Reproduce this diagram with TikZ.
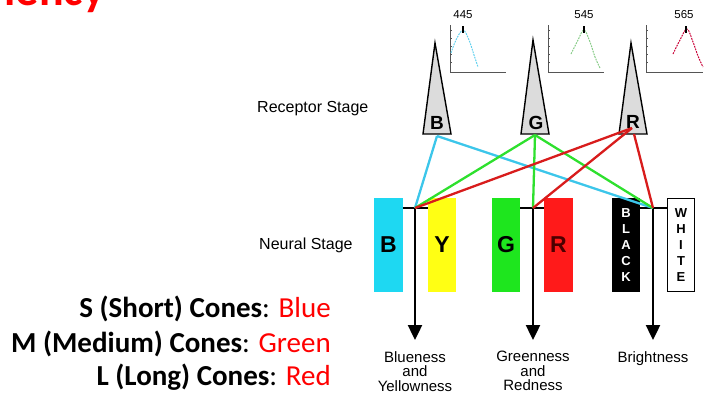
\documentclass[tikz,border=0pt]{standalone}
\usepackage{fontspec}
\setmainfont{Liberation Sans}
\newfontfamily\calibri{Carlito}
\usetikzlibrary{arrows.meta}
\definecolor{barcyan}{HTML}{1ED8F2}
\definecolor{baryellow}{HTML}{FFFF14}
\definecolor{bargreen}{HTML}{1EE61E}
\definecolor{barred}{HTML}{FF1A1A}
\definecolor{lncyan}{HTML}{3CC6EA}
\definecolor{lngreen}{HTML}{2EE02E}
\definecolor{lnred}{HTML}{D81C1C}
\definecolor{conegray}{HTML}{DCDCDC}
\definecolor{axgray}{HTML}{555555}
\begin{document}
\begin{tikzpicture}[x=1pt,y=-1pt,
  bar/.style={inner sep=0pt, minimum width=28.5pt, minimum height=94pt, font=\bfseries\fontsize{23}{23}\selectfont},
  vbar/.style={inner sep=0pt, minimum width=28pt, minimum height=94pt, align=center, font=\bfseries\fontsize{13}{16}\selectfont},
  cone/.style={draw=black, line width=1.4pt, fill=conegray, line join=miter},
  conelbl/.style={inner sep=0pt, font=\bfseries\fontsize{19}{19}\selectfont},
  tline/.style={line width=2.4pt},
  outline/.style={line width=2.4pt, -{Triangle[length=15pt,width=14pt]}},
  link/.style={line width=2.3pt},
  outlbl/.style={inner sep=0pt, align=center, font=\fontsize{15}{14.5}\selectfont},
  stagelbl/.style={inner sep=0pt, anchor=west, font=\fontsize{16}{18}\selectfont},
  axis/.style={draw=axgray, line width=0.9pt},
  curve/.style={line width=1pt, dash pattern=on 1.8pt off 1pt},
  peaklbl/.style={inner sep=0pt, font=\fontsize{11.5}{12}\selectfont},
  keytxt/.style={inner sep=0pt, anchor=base east, font=\calibri\fontsize{29}{34}\selectfont}
]
\useasboundingbox (0,0) rectangle (715,392);

% title (cut off at the top)
\node[inner sep=0pt, anchor=base east, text=red, font=\calibri\bfseries\fontsize{46}{50}\selectfont] (title) at (105,5) {iency};

% key text
\node[keytxt] (keyS) at (331,317) {\textbf{S (Short) Cones}: \textcolor{red}{Blue}};
\node[keytxt] (keyM) at (331,352) {\textbf{M (Medium) Cones}: \textcolor{red}{Green}};
\node[keytxt] (keyL) at (331,385) {\textbf{L (Long) Cones}: \textcolor{red}{Red}};

% stage labels
\node[stagelbl] (recst) at (257,109) {Receptor Stage};
\node[stagelbl] (neust) at (259,245) {Neural Stage};

% spectral plots
\foreach \ox/\ex in {450/506, 548/604, 646/703}{
  \draw[axis] (\ox,25) -- (\ox,72) -- (\ex,72);
  \foreach \t in {30,38,46,54,62}{\draw[axgray, line width=0.5pt] (\ox,\t) -- (\ox+2,\t);}
}
\draw[curve, draw=lncyan!80] plot[smooth, tension=0.6] coordinates {(451,53) (456,40) (463,30) (469,40) (474,55) (478,67)};
\draw[curve, draw=lngreen!55!gray!70] plot[smooth, tension=0.6] coordinates {(571,54) (578,40) (584,30) (590,42) (595,57) (600,68)};
\draw[curve, draw=purple!85!red] plot[smooth, tension=0.6] coordinates {(673,54) (680,40) (687,29) (693,42) (698,56) (703,67)};
\draw[line width=1.1pt] (463,26) -- (463,33);
\draw[line width=1.1pt] (584,26) -- (584,33);
\draw[line width=1.1pt] (686,26) -- (686,33);
\node[peaklbl] (p445) at (463,15) {445};
\node[peaklbl] (p545) at (584,15) {545};
\node[peaklbl] (p565) at (684,15) {565};

% receptor cones
\coordinate (Bapex) at (435,43);
\coordinate (Gapex) at (533,40);
\coordinate (Rapex) at (631,43);
\draw[cone] (Bapex) -- (451,134) -- (423,134) -- cycle;
\draw[cone] (Gapex) -- (549,134) -- (521,134) -- cycle;
\draw[cone] (Rapex) -- (647,134) -- (619,134) -- cycle;
\node[conelbl] (Bcone) at (437,123) {B};
\node[conelbl] (Gcone) at (536,123) {G};
\node[conelbl] (Rcone) at (633,122) {R};

% neural stage bars
\node[bar, fill=barcyan] (barB) at (388.5,245) {B};
\node[bar, fill=baryellow] (barY) at (442,245) {Y};
\node[bar, fill=bargreen] (barG) at (506,245) {G};
\node[bar, fill=barred, text=black!70!red] (barR) at (558.5,245) {R};
\node[vbar, fill=black, text=white] (barK) at (626,245) {B\\L\\A\\C\\K};
\node[vbar, draw=black, line width=1pt, fill=white, minimum width=27pt, minimum height=93pt] (barW) at (681,245) {W\\H\\I\\T\\E};

% junctions
\coordinate (jBY) at (415,208);
\coordinate (jGR) at (533,208);
\coordinate (jBW) at (653,208);
\coordinate (oBY) at (415,340);
\coordinate (oGR) at (533,340);
\coordinate (oBW) at (653,340);

\draw[tline] (barB.east |- jBY) -- (barY.west |- jBY);
\draw[tline] (barG.east |- jGR) -- (barR.west |- jGR);
\draw[tline] (barK.east |- jBW) -- (barW.west |- jBW);
\draw[outline] (jBY) -- (oBY);
\draw[outline] (jGR) -- (oGR);
\draw[outline] (jBW) -- (oBW);

% connections
\coordinate (Bo) at (437,136);
\coordinate (Go) at (535,135);
\coordinate (Ro) at (632,128);
\coordinate (Ro2) at (634,134);
\draw[link, lncyan] (Bo) -- (jBY);
\draw[link, lncyan] (Bo) -- (jBW);
\draw[link, lngreen] (Go) -- (jBY);
\draw[link, lngreen] (Go) -- (jGR);
\draw[link, lngreen] (Go) -- (jBW);
\draw[link, lnred] (Ro) -- (jBY);
\draw[link, lnred] (Ro) -- (jGR);
\draw[link, lnred] (Ro2) -- (jBW);

% output labels
\node[outlbl, anchor=north] (lBY) at (415,351) {Blueness\\and\\Yellowness};
\node[outlbl, anchor=north] (lGR) at (533,351) {Greenness\\and\\Redness};
\node[outlbl, anchor=north] (lBW) at (653,351) {Brightness};
\end{tikzpicture}
\end{document}
